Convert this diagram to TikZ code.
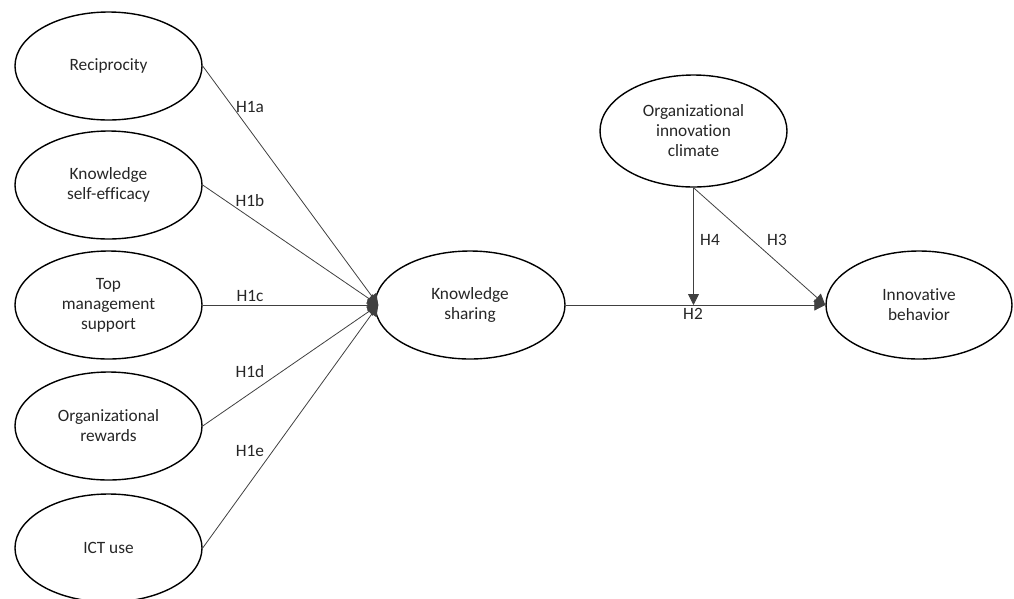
\documentclass[tikz,border=0pt]{standalone}
\usepackage{fontspec}
\setmainfont{Carlito}[Ligatures=NoCommon]
\usetikzlibrary{shapes.geometric,arrows.meta}
\begin{document}
\begin{tikzpicture}[x=1pt,y=-1pt,
  construct/.style={draw=black,line width=1.4pt,ellipse,minimum width=187pt,minimum height=108pt,inner sep=0pt,
    align=center,text=black!85,font=\fontsize{17.3}{20}\selectfont},
  path/.style={draw=black!75,line width=0.8pt,-{Triangle[length=11pt,width=11pt]}},
  hyp/.style={text=black!85,font=\fontsize{17.3}{20}\selectfont,inner sep=0pt}]
\useasboundingbox (0,0) rectangle (1014,598);
\node[construct] (rec) at (108.5,66) {Reciprocity};
\node[construct] (kse) at (108.5,185) {Knowledge\\self-efficacy};
\node[construct] (tms) at (108.5,305) {Top\\management\\support};
\node[construct] (orw) at (108.5,426) {Organizational\\rewards};
\node[construct] (ict) at (108.5,548) {ICT use};
\node[construct,minimum width=190pt] (ks) at (470,305) {Knowledge\\sharing};
\node[construct,minimum width=187pt,minimum height=112pt] (oic) at (693.5,131) {Organizational\\innovation\\climate};
\node[construct,minimum width=186pt] (ib) at (919,305) {Innovative\\behavior};
\coordinate (ksin) at ([xshift=4pt]ks.west);
\coordinate (mod) at (693.5,305);
\draw[path] (rec.east) -- (ksin);
\draw[path] (kse.east) -- (ksin);
\draw[path] (tms.east) -- (ksin);
\draw[path] (orw.east) -- (ksin);
\draw[path] (ict.east) -- (ksin);
\draw[path] (ks.east) -- (ib.west);
\draw[path] (oic.south) -- (mod);
\draw[path] (oic.south) -- (ib.west);
\node[hyp] (h1a) at (250,107) {H1a};
\node[hyp] (h1b) at (250,201) {H1b};
\node[hyp] (h1c) at (250,296) {H1c};
\node[hyp] (h1d) at (250,372) {H1d};
\node[hyp] (h1e) at (250,451) {H1e};
\node[hyp] (h2) at (693,314) {H2};
\node[hyp] (h4) at (710,240) {H4};
\node[hyp] (h3) at (777,240) {H3};
\end{tikzpicture}
\end{document}
